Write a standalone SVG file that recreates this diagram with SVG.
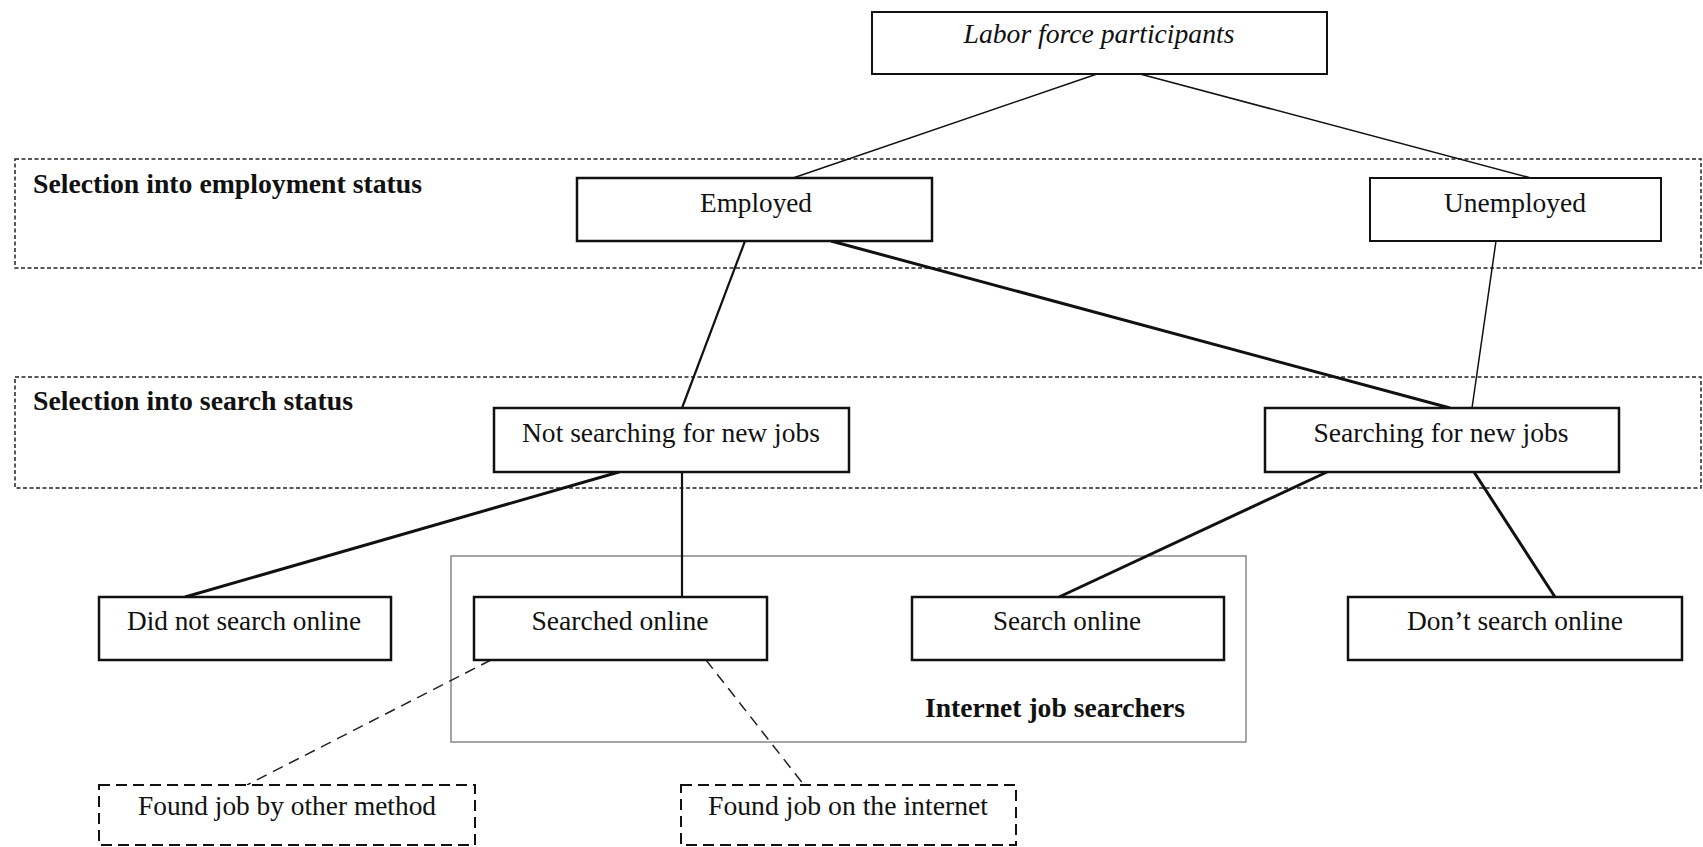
<svg xmlns="http://www.w3.org/2000/svg" width="1703" height="847" viewBox="0 0 1703 847">
<style>
text{font-family:"Liberation Serif","Times New Roman",serif;font-size:27px;fill:#111;}
.b{font-weight:bold;}
.node{fill:#fff;stroke:#111;stroke-width:2.5;}
.region{fill:none;stroke:#222;stroke-width:1.5;stroke-dasharray:4 2.5;}
.found{fill:#fff;stroke:#111;stroke-width:2;stroke-dasharray:11 6;}
.group{fill:none;stroke:#888;stroke-width:1.5;}
.thin{stroke:#111;stroke-width:1.5;fill:none;}
.med{stroke:#111;stroke-width:2.2;fill:none;}
.thick{stroke:#111;stroke-width:3;fill:none;}
.dash{stroke:#222;stroke-width:1.5;fill:none;stroke-dasharray:11 7;}
</style>
<rect width="1703" height="847" fill="#fff"/>
<g id="region-employment">
<rect class="region" x="15" y="159" width="1686" height="109"/>
<text class="b" x="33" y="193" textLength="389" lengthAdjust="spacingAndGlyphs">Selection into employment status</text>
</g>
<g id="region-search">
<rect class="region" x="15" y="377" width="1686" height="111"/>
<text class="b" x="33" y="410" textLength="320" lengthAdjust="spacingAndGlyphs">Selection into search status</text>
</g>
<g id="group-internet">
<rect class="group" x="451" y="556" width="795" height="186"/>
<text class="b" x="925" y="717" textLength="260" lengthAdjust="spacingAndGlyphs">Internet job searchers</text>
</g>
<g id="connectors">
<line class="thin" x1="1097" y1="74" x2="793" y2="178"/>
<line class="thin" x1="1140" y1="74" x2="1531" y2="178"/>
<line class="med" x1="745" y1="241" x2="682" y2="408"/>
<line class="thick" x1="831" y1="241" x2="1450" y2="408"/>
<line class="thin" x1="1496" y1="241" x2="1472" y2="408"/>
<line class="thick" x1="619" y1="472" x2="185" y2="597"/>
<line class="med" x1="682" y1="472" x2="682" y2="597"/>
<line class="thick" x1="1327" y1="472" x2="1059" y2="597"/>
<line class="thick" x1="1474" y1="472" x2="1555" y2="597"/>
<line class="dash" x1="491" y1="660" x2="247" y2="785"/>
<line class="dash" x1="706" y1="660" x2="804" y2="785"/>
</g>
<g id="labor">
<rect class="node" x="872" y="12" width="455" height="62" style="stroke-width:2"/>
<text x="1099" y="43" text-anchor="middle" font-style="italic" textLength="271" lengthAdjust="spacingAndGlyphs">Labor force participants</text>
</g>
<g id="employed">
<rect class="node" x="577" y="178" width="355" height="63"/>
<text x="756" y="212" text-anchor="middle" textLength="112" lengthAdjust="spacingAndGlyphs">Employed</text>
</g>
<g id="unemployed">
<rect class="node" x="1370" y="178" width="291" height="63" style="stroke-width:2"/>
<text x="1515" y="212" text-anchor="middle" textLength="142" lengthAdjust="spacingAndGlyphs">Unemployed</text>
</g>
<g id="not-searching">
<rect class="node" x="494" y="408" width="355" height="64"/>
<text x="671" y="442" text-anchor="middle" textLength="298" lengthAdjust="spacingAndGlyphs">Not searching for new jobs</text>
</g>
<g id="searching">
<rect class="node" x="1265" y="408" width="354" height="64"/>
<text x="1441" y="442" text-anchor="middle" textLength="255" lengthAdjust="spacingAndGlyphs">Searching for new jobs</text>
</g>
<g id="did-not-search">
<rect class="node" x="99" y="597" width="292" height="63"/>
<text x="244" y="630" text-anchor="middle" textLength="234" lengthAdjust="spacingAndGlyphs">Did not search online</text>
</g>
<g id="searched-online">
<rect class="node" x="474" y="597" width="293" height="63"/>
<text x="620" y="630" text-anchor="middle" textLength="177" lengthAdjust="spacingAndGlyphs">Searched online</text>
</g>
<g id="search-online">
<rect class="node" x="912" y="597" width="312" height="63"/>
<text x="1067" y="630" text-anchor="middle" textLength="148" lengthAdjust="spacingAndGlyphs">Search online</text>
</g>
<g id="dont-search">
<rect class="node" x="1348" y="597" width="334" height="63"/>
<text x="1515" y="630" text-anchor="middle" textLength="216" lengthAdjust="spacingAndGlyphs">Don’t search online</text>
</g>
<g id="found-other">
<rect class="found" x="99" y="785" width="376" height="60"/>
<text x="287" y="815" text-anchor="middle" textLength="298" lengthAdjust="spacingAndGlyphs">Found job by other method</text>
</g>
<g id="found-internet">
<rect class="found" x="681" y="785" width="335" height="60"/>
<text x="848" y="815" text-anchor="middle" textLength="280" lengthAdjust="spacingAndGlyphs">Found job on the internet</text>
</g>
</svg>
